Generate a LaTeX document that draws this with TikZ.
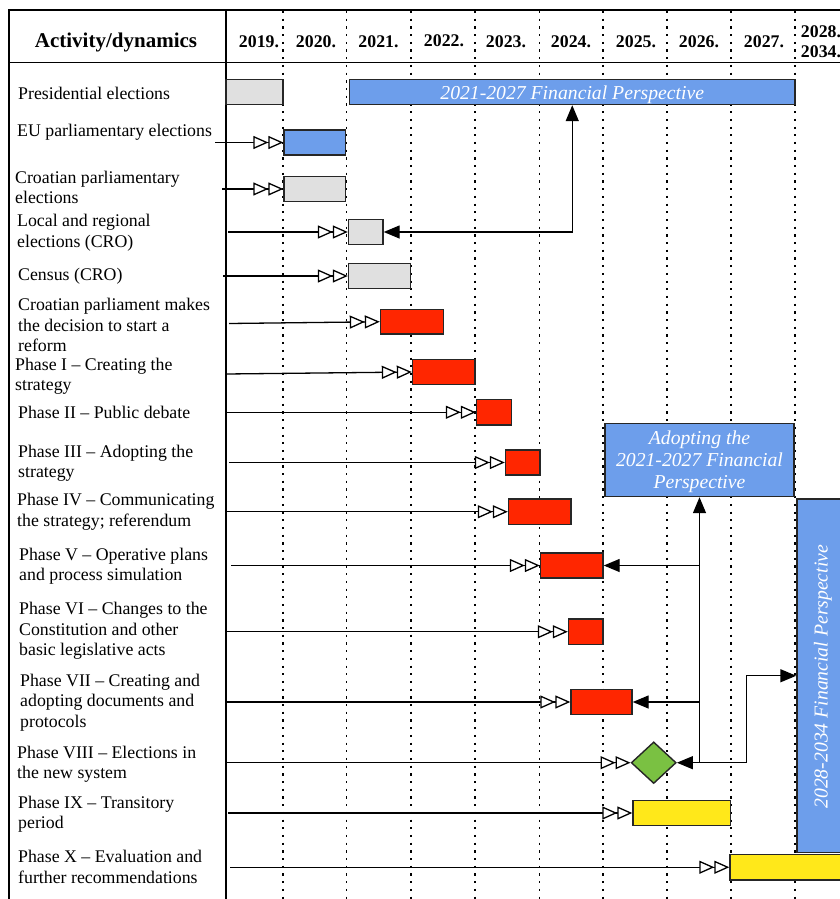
\documentclass[tikz,border=0pt]{standalone}
\usepackage{fontspec}
\setmainfont{Liberation Serif}
\usetikzlibrary{arrows.meta,shapes.geometric,calc}
\definecolor{bblue}{RGB}{109,158,235}
\definecolor{bred}{RGB}{255,38,0}
\definecolor{byel}{RGB}{255,232,26}
\definecolor{bgreen}{RGB}{122,193,66}
\definecolor{bgray}{RGB}{224,224,224}
\tikzset{
 frameline/.style={line width=1.8pt},
 gridline/.style={line width=1.8pt, dash pattern=on 2.2pt off 5.5pt},
 bar/.style={draw=black!85, line width=1.4pt, inner sep=0pt, rectangle},
 gbar/.style={bar, fill=bgray},
 bbar/.style={bar, fill=bblue},
 rbar/.style={bar, fill=bred},
 ybar/.style={bar, fill=byel},
 lab/.style={anchor=west, align=left, inner sep=0pt, font=\fontsize{17.8}{20.5}\selectfont},
 hdr/.style={font=\fontsize{17.8}{20}\selectfont\bfseries, inner sep=0pt, align=center},
 ital/.style={text=white, font=\fontsize{19.7}{22}\selectfont\itshape, align=center, inner sep=0pt},
 conn/.style={line width=1.3pt, -{Triangle[fill=white,length=15pt,width=13pt,sep=0pt]Triangle[fill=white,length=15pt,width=13pt]}},
 fa/.style={line width=1.4pt, -{Triangle[length=16pt,width=13pt]}},
 fab/.style={line width=1.4pt, {Triangle[length=16pt,width=13pt]}-{Triangle[length=16pt,width=13pt]}},
}
\begin{document}
\begin{tikzpicture}[x=1pt,y=-1pt]
\useasboundingbox (0,0) rectangle (840,899);
\clip (0,0) rectangle (840,899);
% grid lines
\foreach \gx in {283,346.5,411,475.3,539.5,603,667,731,795}
  \draw[gridline] (\gx,11) -- (\gx,899);
% frame
\draw[frameline] (9,899) -- (9,10) -- (845,10);
\draw[frameline] (9,62.5) -- (845,62.5);
\draw[frameline] (226,10) -- (226,899);
% header
\node[hdr, font=\fontsize{21}{24}\selectfont\bfseries] (hact) at (116,42) {Activity/dynamics};
\node[hdr] (y19) at (259,41.5) {2019.};
\node[hdr] (y20) at (316,41.5) {2020.};
\node[hdr] (y21) at (378.5,41.5) {2021.};
\node[hdr] (y22) at (444,40.5) {2022.};
\node[hdr] (y23) at (506,41.5) {2023.};
\node[hdr] (y24) at (571,41.5) {2024.};
\node[hdr] (y25) at (636,41.5) {2025.};
\node[hdr] (y26) at (699,41.5) {2026.};
\node[hdr] (y27) at (764,41.5) {2027.};
\node[hdr] (y28) at (821,42) {2028.\\2034.};
% labels
\node[lab] (l1) at (18,93.3) {Presidential elections};
\node[lab] (l2) at (17,132.7) {EU parliamentary elections};
\node[lab] (l3) at (15,187.5) {Croatian parliamentary\\elections};
\node[lab] (l4) at (17,232.7) {Local and regional\\elections (CRO)};
\node[lab] (l5) at (18,276.7) {Census (CRO)};
\node[lab] (l6) at (18,325) {Croatian parliament makes\\the decision to start a\\reform};
\node[lab] (l7) at (15,376) {Phase I – Creating the\\strategy};
\node[lab] (l8) at (18,412.7) {Phase II – Public debate};
\node[lab] (l9) at (18,463) {Phase III – Adopting the\\strategy};
\node[lab] (l10) at (17,511.7) {Phase IV – Communicating\\the strategy; referendum};
\node[lab] (l11) at (19,566) {Phase V – Operative plans\\and process simulation};
\node[lab] (l12) at (19,631) {Phase VI – Changes to the\\Constitution and other\\basic legislative acts};
\node[lab] (l13) at (20,702.3) {Phase VII – Creating and\\adopting documents and\\protocols};
\node[lab] (l14) at (17,764.3) {Phase VIII – Elections in\\the new system};
\node[lab] (l15) at (18,814) {Phase IX – Transitory\\period};
\node[lab] (l16) at (18,867) {Phase X – Evaluation and\\further recommendations};
% bars
\node[gbar, minimum width=57pt, minimum height=25pt] (pres) at (254.5,92) {};
\node[bbar, minimum width=445.5pt, minimum height=25pt] (fp) at (572.25,92) {};
\node[ital, yshift=-2.5pt] (fpt) at (fp.center) {2021-2027 Financial Perspective};
\node[bbar, minimum width=61.5pt, minimum height=25pt] (eu) at (314.75,142.5) {};
\node[gbar, minimum width=61.5pt, minimum height=25pt] (crp) at (314.75,189) {};
\node[gbar, minimum width=34.5pt, minimum height=25pt] (loc) at (365.75,232) {};
\node[gbar, minimum width=62pt, minimum height=25pt] (cen) at (379.5,276) {};
\node[rbar, minimum width=63pt, minimum height=24.5pt] (dec) at (412,321.75) {};
\node[rbar, minimum width=62.5pt, minimum height=25pt] (p1) at (443.75,372) {};
\node[rbar, minimum width=35pt, minimum height=25.5pt] (p2) at (494,412.25) {};
\node[rbar, minimum width=34.5pt, minimum height=25pt] (p3) at (522.75,462.5) {};
\node[rbar, minimum width=62.5pt, minimum height=25.5pt] (p4) at (539.75,511.75) {};
\node[rbar, minimum width=62.5pt, minimum height=25pt] (p5) at (571.75,565.5) {};
\node[rbar, minimum width=34.5pt, minimum height=25.5pt] (p6) at (585.75,631.75) {};
\node[rbar, minimum width=61pt, minimum height=25pt] (p7) at (601.5,702) {};
\node[draw=black!85, line width=1.4pt, fill=bgreen, diamond, inner sep=0pt, minimum width=45pt, minimum height=41.6pt] (p8) at (653.7,762.7) {};
\node[ybar, minimum width=97.5pt, minimum height=25pt] (p9) at (681.75,813) {};
\node[ybar, minimum width=130pt, minimum height=25.5pt] (p10) at (795,867.25) {};
\node[bbar, minimum width=189pt, minimum height=73pt] (adopt) at (699.5,460) {};
\node[ital, yshift=-2pt] (adoptt) at (adopt.center) {Adopting the\\2021-2027 Financial\\Perspective};
\node[bbar, minimum width=52pt, minimum height=353.5pt] (fp2) at (823,675.75) {};
\node[ital, rotate=90, xshift=-1pt] (fp2t) at (fp2.center) {2028-2034 Financial Perspective};
% connector starts
\coordinate (s2) at (215,142.5);
\coordinate (s3) at (222,189);
\coordinate (s4) at (228,232);
\coordinate (s5) at (223,276);
\coordinate (s6) at (229,323.5);
\coordinate (s7) at (226,374);
\coordinate (s8) at (226,412.25);
\coordinate (s9) at (229,462.5);
\coordinate (s10) at (226,511.75);
\coordinate (s11) at (231,565.5);
\coordinate (s12) at (226,631.75);
\coordinate (s13) at (226,702);
\coordinate (s14) at (226,762.7);
\coordinate (s15) at (228,813);
\coordinate (s16) at (230,867.25);
\draw[conn] (s2) -- (eu.west);
\draw[conn] (s3) -- (crp.west);
\draw[conn] (s4) -- (loc.west);
\draw[conn] (s5) -- (cen.west);
\draw[conn] (s6) -- (dec.west);
\draw[conn] (s7) -- (p1.west);
\draw[conn] (s8) -- (p2.west);
\draw[conn] (s9) -- (p3.west);
\draw[conn] (s10) -- (p4.west);
\draw[conn] (s11) -- (p5.west);
\draw[conn] (s12) -- (p6.west);
\draw[conn] (s13) -- (p7.west);
\draw[conn] (s14) -- (p8.west);
\draw[conn] (s15) -- (p9.west);
\draw[conn] (s16) -- (p10.west);
% feedback connectors
\draw[fab] (loc.east) -| (fp.south);
\coordinate (jn) at (adopt.south |- p8.east);
\draw[fa] (jn) -- (adopt.south);
\draw[fa] (jn) -- (p8.east);
\draw[fa] (adopt.south |- p5.east) -- (p5.east);
\draw[fa] (adopt.south |- p7.east) -- (p7.east);
\draw[fa] (jn) -- ++(47,0) |- (fp2.west);
\end{tikzpicture}
\end{document}
